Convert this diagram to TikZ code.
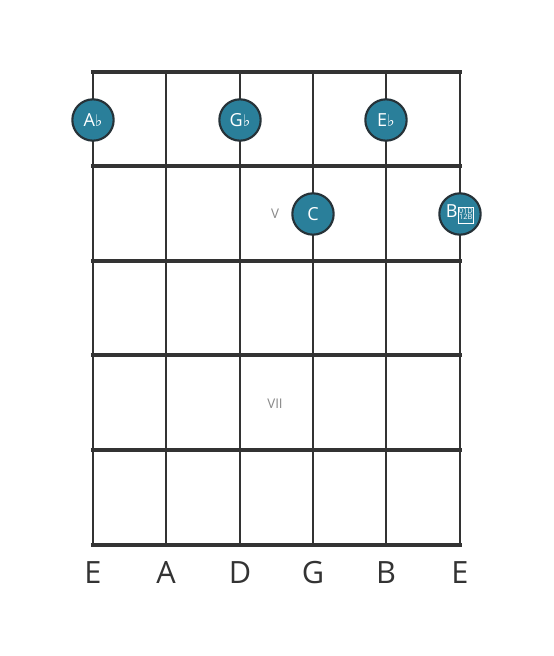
\documentclass[tikz,border=0pt]{standalone}
\usepackage{fontspec}
\setmainfont{Open Sans}
\newfontfamily\symfont{DejaVu Sans}
\usetikzlibrary{positioning}
\definecolor{lineclr}{HTML}{333333}
\definecolor{dotclr}{HTML}{2A7F9A}
\definecolor{dotedge}{HTML}{263238}
\definecolor{romanclr}{HTML}{888888}
\tikzstyle{fret}=[line width=3.6pt, lineclr]
\tikzstyle{gstring}=[line width=2.2pt, lineclr]
\tikzstyle{note}=[circle, draw=dotedge, line width=1.6pt, fill=dotclr, minimum size=31pt, inner sep=0pt, text=white, font=\fontsize{13.5}{13.5}\selectfont]
\tikzstyle{strname}=[text=lineclr, font=\fontsize{23}{23}\selectfont]
\tikzstyle{roman}=[text=romanclr, font=\fontsize{10}{10}\selectfont]
\newcommand{\flatsign}{{\symfont\fontsize{12}{12}\selectfont\char"266D}}
\newcommand{\tofubox}{\raisebox{0.3pt}{\setlength{\fboxsep}{0.5pt}\setlength{\fboxrule}{0.45pt}\fbox{\fontsize{5.6}{5.6}\selectfont\begin{tabular}{@{}c@{}}01D\\[-1.4pt]12B\end{tabular}}}}

\begin{document}
\begin{tikzpicture}[x=0.75pt, y=-0.75pt]
            \useasboundingbox[fill=white] (0,0) rectangle (553,656);
            %%%%% strings
            \foreach \s/\x in {1/93, 2/166, 3/240, 4/313, 5/386, 6/460} {
                \coordinate (top\s) at (\x,72);
                \coordinate (bot\s) at (\x,545);
                \draw[gstring] (top\s) -- (bot\s);
            }
            %%%%% frets
            \foreach \f/\y in {0/72, 1/166, 2/261, 3/355, 4/450, 5/545} {
                \coordinate (fl\f) at (93,\y);
                \coordinate (fr\f) at (460,\y);
                \draw[fret] ([xshift=-1.6pt]fl\f) -- ([xshift=1.6pt]fr\f);
            }
            %%%%% position marks
            \node[roman] (posV) at (275,214) {V};
            \node[roman] (posVII) at (275,404) {VII};
            %%%%% notes
            \node[note] (nAb) at (93,120) {A\flatsign};
            \node[note] (nGb) at (240,120) {G\flatsign};
            \node[note] (nEb) at (386,120) {E\flatsign};
            \node[note] (nC) at (313,214) {C};
            \node[note] (nBbb) at (460,214) {B\tofubox};
            %%%%% string names
            \foreach \s/\x/\n in {1/93/E, 2/166/A, 3/240/D, 4/313/G, 5/386/B, 6/460/E} {
                \node[strname] (name\s) at (\x,573) {\n};
            }
\end{tikzpicture}
\end{document}
